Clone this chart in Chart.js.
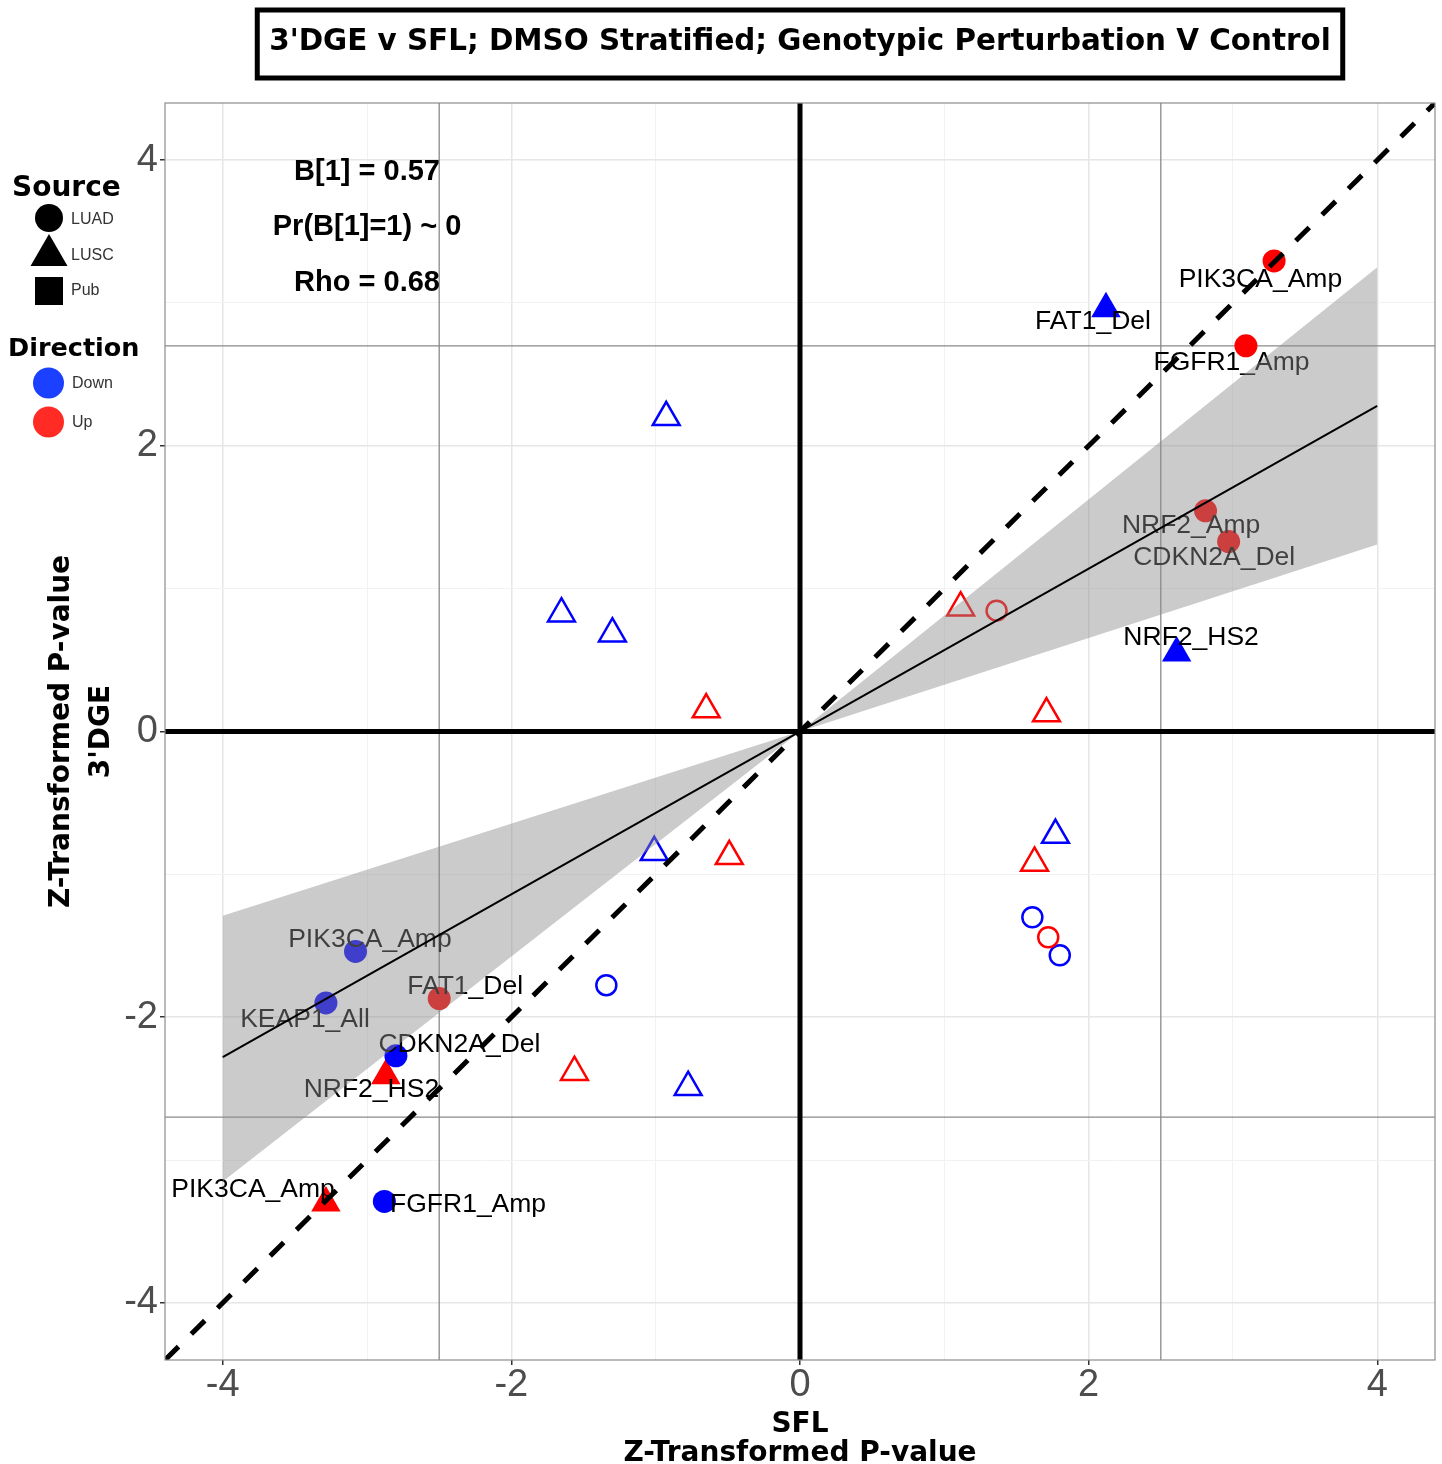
<!DOCTYPE html>
<html>
<head>
<meta charset="utf-8">
<script src="https://cdn.jsdelivr.net/npm/chart.js@4.4.1/dist/chart.umd.min.js"></script>
<style>
  html, body { margin: 0; padding: 0; background: #fff; }
  canvas { display: block; }
</style>
</head>
<body>
<canvas id="scatterChart" width="1442" height="1464"></canvas>
<script>
// Axis range and ticks (same on both axes)
const axisMin = -4.4;
const axisMax = 4.4;
const tickValues = [-4, -3, -2, -1, 0, 1, 2, 3, 4];
const majorTicks = [-4, -2, 0, 2, 4];

// Points: SFL (x) vs 3'DGE (y), z-transformed p-values
const pointX = [-0.927, -1.653, -1.30, -1.01, -0.775, 1.77,
                -0.65, -0.49, -1.563, 1.113, 1.708, 1.625,
                -1.342, 1.61, 1.80, 1.362, 1.72,
                3.285, 2.12, 3.09, 2.81, 2.97, 2.61,
                -3.08, -3.285, -2.50, -2.87, -2.80, -3.285, -2.88];
const pointY = [2.20, 0.825, 0.685, -0.846, -2.49, -0.725,
                0.154, -0.874, -2.385, 0.867, 0.126, -0.92,
                -1.776, -1.30, -1.566, 0.846, -1.44,
                3.294, 2.96, 2.70, 1.545, 1.33, 0.55,
                -1.54, -1.90, -1.87, -2.41, -2.27, -3.30, -3.29];
const pointSource = ['LUSC', 'LUSC', 'LUSC', 'LUSC', 'LUSC', 'LUSC',
                     'LUSC', 'LUSC', 'LUSC', 'LUSC', 'LUSC', 'LUSC',
                     'LUAD', 'LUAD', 'LUAD', 'LUAD', 'LUAD',
                     'LUAD', 'LUSC', 'LUAD', 'LUAD', 'LUAD', 'LUSC',
                     'LUAD', 'LUAD', 'LUAD', 'LUSC', 'LUAD', 'LUSC', 'LUAD'];
const pointDirection = ['Down', 'Down', 'Down', 'Down', 'Down', 'Down',
                        'Up', 'Up', 'Up', 'Up', 'Up', 'Up',
                        'Down', 'Down', 'Down', 'Up', 'Up',
                        'Up', 'Down', 'Up', 'Up', 'Up', 'Down',
                        'Down', 'Down', 'Up', 'Up', 'Down', 'Up', 'Down'];
const pointFilled = [false, false, false, false, false, false,
                     false, false, false, false, false, false,
                     false, false, false, false, false,
                     true, true, true, true, true, true,
                     true, true, true, true, true, true, true];

// Text labels of the significant points
const labelText = ['PIK3CA_Amp', 'FAT1_Del', 'FGFR1_Amp', 'NRF2_Amp', 'CDKN2A_Del', 'NRF2_HS2',
                   'PIK3CA_Amp', 'FAT1_Del', 'KEAP1_All', 'CDKN2A_Del', 'NRF2_HS2', 'PIK3CA_Amp', 'FGFR1_Amp'];
const labelX = [3.19, 2.03, 2.99, 2.71, 2.87, 2.71,
                -2.98, -2.32, -3.43, -2.36, -2.97, -3.79, -2.30];
const labelY = [3.16, 2.87, 2.585, 1.44, 1.22, 0.66,
                -1.46, -1.785, -2.02, -2.19, -2.51, -3.21, -3.315];

// Reference lines
const refLinesX = [-2.5, 2.5];
const refLinesY = [-2.7, 2.7];

// Fitted line through the origin and its band
const fitX = [-4, 4];
const fitY = [-2.28, 2.28];
const bandX = [-4, 0, 4];
const bandUpper = [-1.29, 0, 3.25];
const bandLower = [-3.15, 0, 1.31];

// Stats annotation
const statsText = ['B[1] = 0.57', 'Pr(B[1]=1) ~ 0', 'Rho = 0.68'];
const statsX = -3;
const statsY = [3.92, 3.53, 3.14];

// Legend entries
const sourceLabels = ['LUAD', 'LUSC', 'Pub'];
const directionLabels = ['Down', 'Up'];

const chartTitle = "3'DGE v SFL; DMSO Stratified; Genotypic Perturbation V Control";

const dirColors = { Down: '#0000ff', Up: '#ff0000' };
const titleFont = '"DejaVu Sans", "Liberation Sans", sans-serif';
const textFont = '"Liberation Sans", Arial, sans-serif';

Chart.defaults.font.family = textFont;

const vLine = (v, color, width, order) => ({
    type: 'line',
    data: [{ x: v, y: axisMin }, { x: v, y: axisMax }],
    borderColor: color, borderWidth: width, pointRadius: 0, order: order
});
const hLine = (v, color, width, order) => ({
    type: 'line',
    data: [{ x: axisMin, y: v }, { x: axisMax, y: v }],
    borderColor: color, borderWidth: width, pointRadius: 0, order: order
});

const datasets = [
    {
        type: 'line', label: 'fit',
        data: fitX.map((x, i) => ({ x: x, y: fitY[i] })),
        borderColor: '#000', borderWidth: 2, pointRadius: 0, order: 1
    },
    {
        type: 'line', label: 'identity',
        data: [{ x: axisMin, y: axisMin }, { x: axisMax, y: axisMax }],
        borderColor: '#000', borderWidth: 5, borderDash: [19, 18], pointRadius: 0, order: 1
    },
    vLine(0, '#000', 5, 3),
    hLine(0, '#000', 5, 3),
    {
        type: 'line', label: 'bandUpper',
        data: bandX.map((x, i) => ({ x: x, y: bandUpper[i] })),
        borderWidth: 0, pointRadius: 0, fill: '+1',
        backgroundColor: 'rgba(140,140,140,0.45)', order: 5
    },
    {
        type: 'line', label: 'bandLower',
        data: bandX.map((x, i) => ({ x: x, y: bandLower[i] })),
        borderWidth: 0, pointRadius: 0, fill: false, order: 5
    },
    {
        type: 'scatter', label: 'points',
        data: pointX.map((x, i) => ({ x: x, y: pointY[i] })),
        pointStyle: pointSource.map(s => s === 'LUSC' ? 'triangle' : 'circle'),
        pointRadius: pointSource.map((s, i) => s === 'LUSC' ? (pointFilled[i] ? 17 : 15.5) : (pointFilled[i] ? 11.5 : 10)),
        backgroundColor: pointDirection.map((d, i) => pointFilled[i] ? dirColors[d] : 'rgba(0,0,0,0)'),
        borderColor: pointDirection.map(d => dirColors[d]),
        borderWidth: pointFilled.map(f => f ? 0 : 2.5),
        order: 10
    },
    ...refLinesX.map(v => vLine(v, '#8a8a8a', 1.3, 20)),
    ...refLinesY.map(v => hLine(v, '#8a8a8a', 1.3, 20))
];

const gridColor = (ctx) => majorTicks.includes(ctx.tick.value) ? '#e6e6e6' : '#f2f2f2';
const gridWidth = (ctx) => majorTicks.includes(ctx.tick.value) ? 1.5 : 1;
const tickColor = (ctx) => majorTicks.includes(ctx.tick.value) ? '#333' : 'rgba(0,0,0,0)';

const axisOptions = (titleText, lineHeight, titlePadding, tickPadding) => ({
    type: 'linear',
    min: axisMin,
    max: axisMax,
    afterBuildTicks: (scale) => { scale.ticks = tickValues.map(v => ({ value: v })); },
    grid: { color: gridColor, lineWidth: gridWidth, tickColor: tickColor, tickWidth: 1.5, tickLength: 5 },
    border: { display: false },
    ticks: {
        callback: (value) => majorTicks.includes(value) ? String(value) : '',
        color: '#4d4d4d',
        font: { size: 38, lineHeight: 1 },
        padding: tickPadding,
        autoSkip: false,
        maxRotation: 0
    },
    title: {
        display: true,
        text: titleText,
        color: '#000',
        font: { family: titleFont, size: 28, weight: 'bold', lineHeight: lineHeight },
        padding: titlePadding
    }
});

// Point labels go on top of the points, under the band
const pointLabelPlugin = {
    id: 'pointLabels',
    afterDatasetDraw(chart, args) {
        if (chart.data.datasets[args.index].label !== 'points') return;
        const { ctx, scales: { x, y } } = chart;
        ctx.save();
        ctx.font = '26.5px ' + textFont;
        ctx.fillStyle = '#000';
        ctx.textAlign = 'center';
        ctx.textBaseline = 'middle';
        labelText.forEach((t, i) => {
            ctx.fillText(t, x.getPixelForValue(labelX[i]), y.getPixelForValue(labelY[i]));
        });
        ctx.restore();
    }
};

// Panel border and stats text
const panelPlugin = {
    id: 'panel',
    afterDatasetsDraw(chart) {
        const { ctx, chartArea: a, scales: { x, y } } = chart;
        ctx.save();
        ctx.strokeStyle = '#8c8c8c';
        ctx.lineWidth = 1.2;
        ctx.strokeRect(a.left, a.top, a.right - a.left, a.bottom - a.top);
        ctx.font = 'bold 29px ' + textFont;
        ctx.fillStyle = '#000';
        ctx.textAlign = 'center';
        ctx.textBaseline = 'middle';
        statsText.forEach((t, i) => {
            ctx.fillText(t, x.getPixelForValue(statsX), y.getPixelForValue(statsY[i]));
        });
        ctx.restore();
    }
};

// Boxed title and the left-hand legend
const decorPlugin = {
    id: 'decor',
    afterDraw(chart) {
        const { ctx, chartArea: a } = chart;
        ctx.save();
        // title box
        ctx.font = 'bold 29.4px ' + titleFont;
        ctx.fillStyle = '#000';
        ctx.textAlign = 'center';
        ctx.textBaseline = 'middle';
        const cx = (a.left + a.right) / 2;
        const tw = ctx.measureText(chartTitle).width;
        ctx.fillText(chartTitle, cx, 42);
        ctx.lineWidth = 5;
        ctx.strokeStyle = '#000';
        ctx.strokeRect(cx - tw / 2 - 12, 10, tw + 24, 68);

        // legend titles
        ctx.textAlign = 'left';
        ctx.font = 'bold 28px ' + titleFont;
        ctx.fillText('Source', 12, 189);
        ctx.font = 'bold 25.5px ' + titleFont;
        ctx.fillText('Direction', 8, 349);

        // legend: Source shapes
        ctx.fillStyle = '#000';
        ctx.beginPath();
        ctx.arc(49, 218, 14, 0, Math.PI * 2);
        ctx.fill();
        ctx.beginPath();
        ctx.moveTo(49, 234);
        ctx.lineTo(67.5, 266);
        ctx.lineTo(30.5, 266);
        ctx.closePath();
        ctx.fill();
        ctx.fillRect(35, 277, 28, 28);

        ctx.font = '16px ' + textFont;
        ctx.fillStyle = '#333';
        const srcY = [220, 256, 291];
        sourceLabels.forEach((t, i) => ctx.fillText(t, 71, srcY[i]));

        // legend: Direction
        const dirY = [383, 422];
        const legendColors = ['#1c40ff', '#ff2b24'];
        directionLabels.forEach((t, i) => {
            ctx.fillStyle = legendColors[i];
            ctx.beginPath();
            ctx.arc(48.5, dirY[i], 15.5, 0, Math.PI * 2);
            ctx.fill();
            ctx.fillStyle = '#333';
            ctx.fillText(t, 72, dirY[i] + 1);
        });
        ctx.restore();
    }
};

const chart = new Chart(document.getElementById('scatterChart').getContext('2d'), {
    type: 'scatter',
    data: { datasets: datasets },
    options: {
        responsive: false,
        devicePixelRatio: 1,
        animation: false,
        events: [],
        layout: { autoPadding: false, padding: { top: 103, right: 7, left: 0, bottom: 0 } },
        plugins: {
            legend: { display: false },
            tooltip: { enabled: false },
            title: { display: false }
        },
        scales: {
            x: Object.assign(axisOptions(['SFL', 'Z-Transformed P-value'], 1.04, { top: 0, bottom: -4 }, 2), {
                afterFit: (scale) => {
                    scale.height = 104;
                    scale.paddingLeft = 0;
                    scale.paddingRight = 0;
                }
            }),
            y: Object.assign(axisOptions(['Z-Transformed P-value', "3'DGE"], 1.43, { top: 41.5, bottom: 0 }, 2), {
                afterFit: (scale) => {
                    scale.width = 165;
                    scale.paddingTop = 0;
                    scale.paddingBottom = 0;
                }
            })
        }
    },
    plugins: [pointLabelPlugin, panelPlugin, decorPlugin]
});
</script>
</body>
</html>
